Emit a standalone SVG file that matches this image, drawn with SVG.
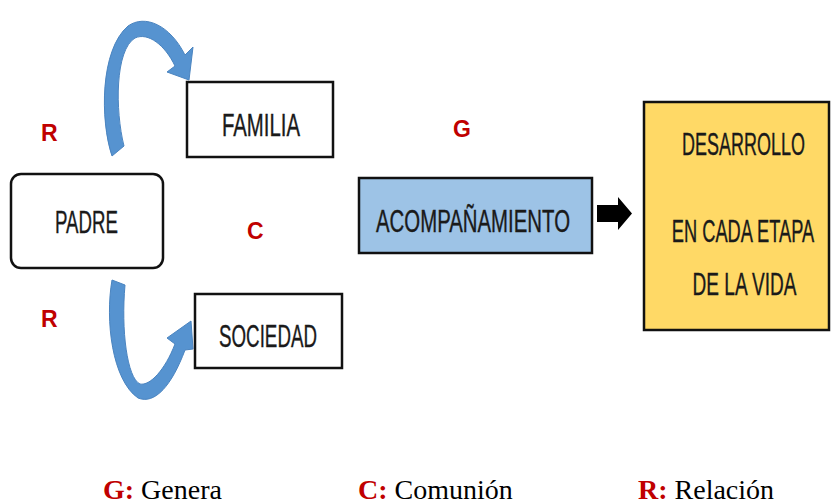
<svg xmlns="http://www.w3.org/2000/svg" width="831" height="504" viewBox="0 0 831 504">
<style>
.box{fill:#fff;stroke:#111;stroke-width:2.5}
.lbl{font-family:"Liberation Sans",Arial,sans-serif;font-size:32px;fill:#1a1a1a;stroke:#1a1a1a;stroke-width:0.4;text-anchor:start}
.mid{text-anchor:middle}
.let{font-family:"Liberation Sans",Arial,sans-serif;font-size:23px;font-weight:bold;fill:#c00000}
.leg{font-family:"Liberation Serif","Times New Roman",serif;font-size:28px;fill:#000}
.legk{fill:#c00000;font-weight:bold}
.curve{fill:#5693d0;stroke:#4a84c0;stroke-width:1}
</style>
<rect width="831" height="504" fill="#fff"/>
<g id="connectors">
<path class="curve" d="M 112 156 C 100 120, 100 50, 128 26 C 145 14, 170 25, 185 55 L 193 47 L 189 80 L 167 72 L 175 66 C 165 45, 148 32, 135 38 C 115 50, 115 110, 124 146 Z"/>
<path class="curve" d="M 112 280 C 105 320, 112 380, 138 398 C 155 405, 172 385, 185 350 L 193 349 L 191 321 L 167 338 L 175 344 C 165 370, 150 386, 140 384 C 127 378, 121 330, 125 285 Z"/>
<path d="M 597 205 L 618 205 L 618 197 L 632 213.5 L 618 230 L 618 222 L 597 222 Z" fill="#000"/>
</g>
<g id="padre">
<rect class="box" x="11" y="174" width="152" height="94" rx="10"/>
<text class="lbl" x="55" y="233" textLength="63" lengthAdjust="spacingAndGlyphs">PADRE</text>
</g>
<g id="familia">
<rect class="box" x="187" y="82" width="146" height="75"/>
<text class="lbl" x="222" y="136" textLength="78" lengthAdjust="spacingAndGlyphs">FAMILIA</text>
</g>
<g id="sociedad">
<rect class="box" x="195" y="294" width="147" height="74"/>
<text class="lbl" x="219" y="347" textLength="98" lengthAdjust="spacingAndGlyphs">SOCIEDAD</text>
</g>
<g id="acompanamiento">
<rect class="box" x="359" y="178" width="233" height="75" style="fill:#9dc3e6"/>
<text class="lbl" x="376" y="232" textLength="194" lengthAdjust="spacingAndGlyphs">ACOMPAÑAMIENTO</text>
</g>
<g id="desarrollo">
<rect class="box" x="644" y="102" width="185" height="228" style="fill:#ffd966"/>
<text class="lbl mid" transform="translate(743.5,155) scale(0.562,1)">DESARROLLO</text>
<text class="lbl mid" transform="translate(743,242) scale(0.571,1)">EN CADA ETAPA</text>
<text class="lbl mid" transform="translate(744.5,295) scale(0.596,1)">DE LA VIDA</text>
</g>
<g id="letters">
<text class="let" x="41" y="141">R</text>
<text class="let" x="41" y="327">R</text>
<text class="let" x="247" y="239">C</text>
<text class="let" x="453" y="137">G</text>
</g>
<g id="legend">
<text class="leg" x="103" y="499"><tspan class="legk">G:</tspan> Genera</text>
<text class="leg" x="358" y="499"><tspan class="legk">C:</tspan> Comunión</text>
<text class="leg" x="638" y="499"><tspan class="legk">R:</tspan> Relación</text>
</g>
</svg>
